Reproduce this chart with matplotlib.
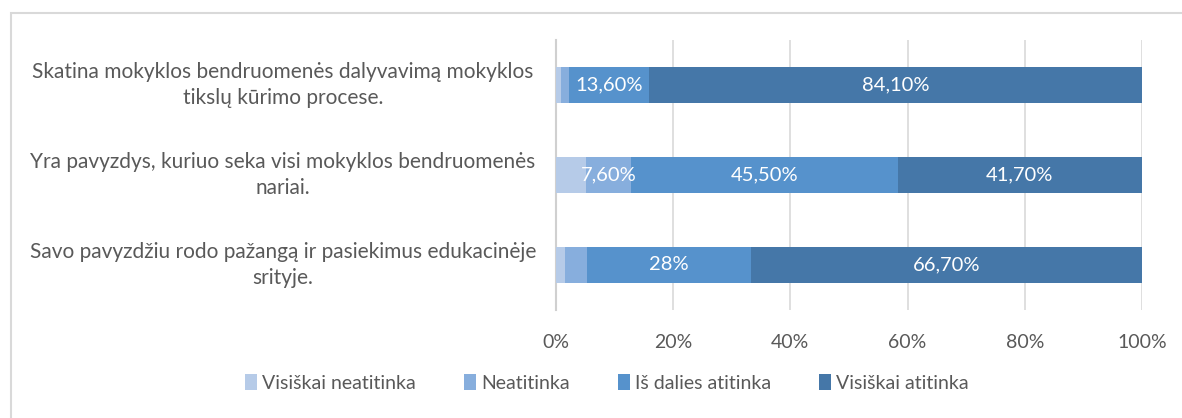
import matplotlib
matplotlib.use("Agg")
import matplotlib.pyplot as plt
from matplotlib.patches import Rectangle
import matplotlib.transforms as mtransforms

categories = [
    "Skatina mokyklos bendruomenės dalyvavimą mokyklos\ntikslų kūrimo procese.",
    "Yra pavyzdys, kuriuo seka visi mokyklos bendruomenės\nnariai.",
    "Savo pavyzdžiu rodo pažangą ir pasiekimus edukacinėje\nsrityje.",
]
series_names = ["Visiškai neatitinka", "Neatitinka", "Iš dalies atitinka", "Visiškai atitinka"]
visiskai_neatitinka = [0.9, 5.2, 1.6]
neatitinka = [1.4, 7.6, 3.7]
is_dalies = [13.6, 45.5, 28.0]
visiskai_atitinka = [84.1, 41.7, 66.7]
labels = [
    [None, None, None],
    [None, "7,60%", None],
    ["13,60%", "45,50%", "28%"],
    ["84,10%", "41,70%", "66,70%"],
]
tick_values = [0, 20, 40, 60, 80, 100]
tick_labels = ["0%", "20%", "40%", "60%", "80%", "100%"]

colors = ["#B6CBE8", "#87AEDD", "#5692CC", "#4577A8"]
text_color = "#595959"

plt.rcParams["font.family"] = ["Lato", "DejaVu Sans"]

fig = plt.figure(figsize=(11.82, 4.18), dpi=100)
W, H = 1182, 418
ax = fig.add_axes([556 / W, 1 - 310 / H, (1142 - 556) / W, (310 - 40) / H])

series = [visiskai_neatitinka, neatitinka, is_dalies, visiskai_atitinka]
ypos = list(range(len(categories)))
left = [0.0] * len(categories)
for s, (vals, name, col) in enumerate(zip(series, series_names, colors)):
    bars = ax.barh(ypos, vals, left=left, height=0.39, color=col, label=name, zorder=3)
    for i, b in enumerate(bars):
        lab = labels[s][i]
        if lab:
            ax.text(left[i] + vals[i] / 2, ypos[i], lab, ha="center", va="center",
                    color="white", fontsize=14.5, zorder=4)
    left = [l + v for l, v in zip(left, vals)]

ax.set_xlim(0, 100)
ax.set_ylim(2.5, -0.5)
ax.set_xticks(tick_values)
ax.set_xticklabels(tick_labels, color=text_color, fontsize=14)
ax.tick_params(axis="x", length=0, pad=17)
ax.set_yticks([])
for sp in ["top", "right", "bottom"]:
    ax.spines[sp].set_visible(False)
ax.spines["left"].set_color("#D0D0D0")
ax.spines["left"].set_linewidth(1.5)
ax.grid(axis="x", color="#D9D9D9", linewidth=1.2, zorder=0)
ax.set_axisbelow(True)

trans = mtransforms.blended_transform_factory(fig.transFigure, ax.transData)
for i, c in enumerate(categories):
    ax.text(283 / W, ypos[i], c, transform=trans, ha="center", va="center",
            multialignment="center", color=text_color, fontsize=15, linespacing=1.35)

fig.legend(loc="center", bbox_to_anchor=(607 / W, 1 - 383 / H), ncol=4, frameon=False,
           fontsize=14, labelcolor=text_color, handlelength=0.6, handleheight=0.9,
           handletextpad=0.25, columnspacing=2.5)

fig.patches.append(Rectangle((11 / W, -0.1), 1.2, 1 - 13 / H + 0.1, transform=fig.transFigure,
                             fill=False, edgecolor="#D9D9D9", linewidth=1.5))

fig.savefig("out.png", dpi=100)
